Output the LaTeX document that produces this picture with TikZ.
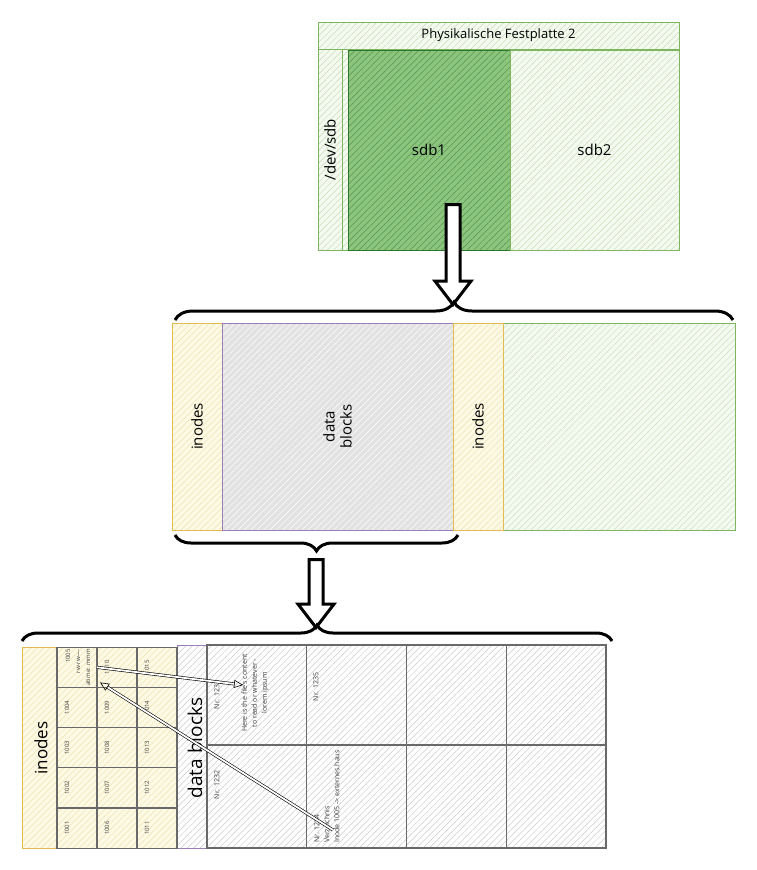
\documentclass[tikz,border=0pt]{standalone}
\usepackage{fontspec}
\setmainfont{Open Sans}
\usetikzlibrary{patterns.meta,shapes.arrows,decorations.pathreplacing,calc,arrows.meta}

\definecolor{grnline}{RGB}{125,182,95}
\definecolor{grnfill}{RGB}{244,250,240}
\definecolor{grndark}{RGB}{45,118,45}
\definecolor{grnmid}{RGB}{140,198,125}
\definecolor{ylwline}{RGB}{226,188,80}
\definecolor{ylwfill}{RGB}{252,249,228}
\definecolor{prpline}{RGB}{155,125,185}
\definecolor{gryfill}{RGB}{226,226,226}
\definecolor{cellline}{RGB}{105,105,105}

\tikzset{
  area/.style={draw, line width=1pt, inner sep=0pt, outer sep=0pt, anchor=north west},
  hatch/.style 2 args={preaction={fill=#1}, pattern={Lines[angle=45,distance=4.5pt,line width=0.5pt]}, pattern color=#2},
  lbl/.style={font=\fontsize{15}{17}\selectfont, rotate=90},
  ilbl/.style={font=\fontsize{6}{10}\selectfont, text=black!75, rotate=90, inner sep=0pt},
  blbl/.style={font=\fontsize{7}{10}\selectfont, text=black!75, rotate=90, inner sep=0pt},
  icell/.style={area, draw=cellline, line width=1.2pt, minimum width=40pt, minimum height=40.2pt},
  bcell/.style={area, draw=cellline, line width=1.2pt, minimum width=99.75pt},
  brace/.style={decorate, decoration={brace, amplitude=#1}, line width=3pt},
  bigarrow/.style={single arrow, draw=black, fill=white, line width=3pt, inner sep=5.5pt,
    single arrow head extend=11pt, single arrow tip angle=75, rotate=-90},
  ptr/.style={double, double distance=1.8pt, line width=0.6pt, -{Triangle[open,length=9pt,width=8pt]}}
}

\begin{document}
\begin{tikzpicture}[x=1pt,y=-1pt]
\useasboundingbox (0,0) rectangle (756,870);

% physical disk
\node[area, draw=grnline, hatch={grnfill}{grnline!45}, minimum width=361pt, minimum height=228pt] (disk) at (318,22) {};
\node[area, draw=grnline, minimum width=361pt, minimum height=27pt, font=\fontsize{13}{15}\selectfont] (title) at (318,22) {Physikalische Festplatte 2};
\node[area, draw=grnline, minimum width=24pt, minimum height=201pt] (devsdb) at (318,49) {};
\node[lbl] at (devsdb.center) {/dev/sdb};
\node[area, draw=grndark, hatch={grnmid}{grndark!80}, minimum width=162pt, minimum height=200pt, font=\fontsize{15}{17}\selectfont] (sdbone) at (348,50) {sdb1};
\node[area, draw=grnline, minimum width=169pt, minimum height=200pt, font=\fontsize{15}{17}\selectfont] (sdbtwo) at (510,50) {sdb2};

\node[bigarrow, minimum height=100pt] (pushone) at (453,250) {};
\draw[brace=18pt] (175,320) -- (733,320);

% partition sdb1
\node[area, draw=grnline, hatch={grnfill}{grnline!40}, minimum width=563pt, minimum height=207pt] (part) at (172,323) {};
\node[area, draw=ylwline, hatch={ylwfill}{ylwline!45}, minimum width=50pt, minimum height=207pt] (inoa) at (172,323) {};
\node[area, draw=prpline, hatch={gryfill}{white}, minimum width=231pt, minimum height=207pt] (dataa) at (222,323) {};
\node[area, draw=ylwline, hatch={ylwfill}{ylwline!45}, minimum width=50pt, minimum height=207pt] (inob) at (453,323) {};
\node[lbl] at (inoa.center) {inodes};
\node[lbl, align=center] at (dataa.center) {data\\blocks};
\node[lbl] at (inob.center) {inodes};

\draw[brace=16pt, decoration={mirror}] (175,535) -- (458,535);
\node[bigarrow, minimum height=68pt] (pushtwo) at (316,589) {};
\draw[brace=16pt] (22,641) -- (612,641);

% inodes and data blocks
\node[area, draw=ylwline, hatch={ylwfill}{ylwline!45}, minimum width=156pt, minimum height=201pt] (inodes) at (22,647) {};
\node[lbl, font=\fontsize{17}{19}\selectfont] at (41,748) {inodes};
\node[area, draw=prpline, hatch={white}{gray!40}, minimum width=429pt, minimum height=203pt] (blocks) at (177,645) {};
\node[lbl, font=\fontsize{19}{21}\selectfont] at (195,748) {data blocks};

\foreach \c in {0,1,2} {
  \foreach \r in {0,...,4} {
    \pgfmathtruncatemacro\id{1001+5*\c+\r}
    \node[icell] (i\id) at (57+40*\c,808-40.2*\r) {};
    \ifnum\id=1005 \else
      \node[ilbl] at ($(i\id.west)+(10,0)$) {\id};
    \fi
  }
}
\node[ilbl, align=right, anchor=east] at (78,649) {1005\\rw-rw----\\atime: mmm};

\foreach \c in {0,...,3} {
  \pgfmathtruncatemacro\up{1233+2*\c}
  \pgfmathtruncatemacro\lo{1232+2*\c}
  \node[bcell, minimum height=100pt] (b\up) at (207+99.75*\c,645) {};
  \node[bcell, minimum height=103pt] (b\lo) at (207+99.75*\c,745) {};
}
\node[blbl] at (217,695) {Nr. 1233};
\node[blbl, align=center] (content) at (255,693) {Here is the file's content\\to read or whatever -\\lorem ipsum};
\node[blbl] at (217,785) {Nr. 1232};
\node[blbl] at (316,687) {Nr. 1235};
\node[blbl, align=left, anchor=west] (dirent) at (327,843) {Nr. 1234\\Verzeichnis\\Inode 1005 -> externes.haus};

\coordinate (ptrtip) at (243,685);
\coordinate (ptrsrc) at (333,830);
\draw[ptr] (i1005.east) -- (ptrtip);
\draw[ptr] (ptrsrc) -- ($(i1005.south east)+(3,-5)$);
\end{tikzpicture}
\end{document}
